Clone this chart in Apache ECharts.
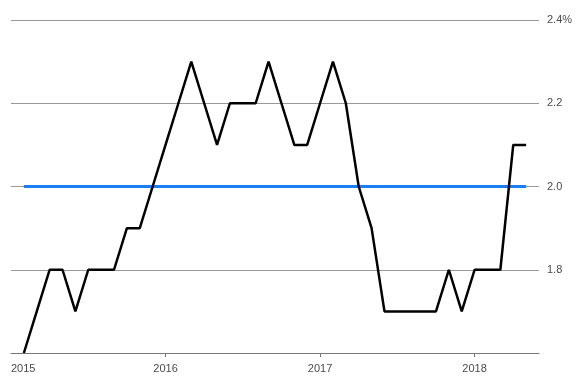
<!DOCTYPE html>
<html>
<head>
<meta charset="utf-8">
<script src="https://cdn.jsdelivr.net/npm/echarts@6/dist/echarts.min.js"></script>
<style>
  html, body { margin: 0; padding: 0; background: #fff; }
  #main { width: 579px; height: 376px; }
</style>
</head>
<body>
<div id="main"></div>
<script>
// months counted from Jan 2015 (0), data runs Feb 2015 .. May 2018
var startMonth = 1;
var inflation = [
  1.6, 1.7, 1.8, 1.8, 1.7, 1.8, 1.8, 1.8, 1.9, 1.9, 2.0,
  2.1, 2.2, 2.3, 2.2, 2.1, 2.2, 2.2, 2.2, 2.3, 2.2, 2.1,
  2.1, 2.2, 2.3, 2.2, 2.0, 1.9, 1.7, 1.7, 1.7, 1.7, 1.7,
  1.8, 1.7, 1.8, 1.8, 1.8, 2.1, 2.1
];
var target = 2.0;
var yearTicks = [0, 12, 24, 36];
var yearLabels = ['2015', '2016', '2017', '2018'];

var lineData = inflation.map(function (v, i) { return [startMonth + i, v]; });
var lastMonth = startMonth + inflation.length - 1;

var chart = echarts.init(document.getElementById('main'));
var option = {
  animation: false,
  backgroundColor: '#fff',
  grid: { left: 11, right: 40, top: 20, bottom: 23 },
  xAxis: {
    type: 'value',
    min: 0,
    max: 41,
    splitLine: { show: false },
    axisLine: { show: true, lineStyle: { color: '#777', width: 1 } },
    axisTick: { show: true, customValues: [12, 24, 36], length: 4, lineStyle: { color: '#777' } },
    axisLabel: {
      customValues: yearTicks,
      alignMinLabel: 'left',
      margin: 10,
      color: '#4a4a4a',
      fontSize: 11,
      fontFamily: 'Liberation Sans, Arial, sans-serif',
      formatter: function (v) {
        var k = yearTicks.indexOf(v);
        return k >= 0 ? yearLabels[k] : '';
      }
    }
  },
  yAxis: {
    type: 'value',
    position: 'right',
    min: 1.6,
    max: 2.4,
    interval: 0.2,
    axisLine: { show: false },
    axisTick: { show: false },
    splitLine: { show: true, lineStyle: { color: '#999', width: 1 } },
    axisLabel: {
      margin: 8,
      color: '#4a4a4a',
      fontSize: 11,
      fontFamily: 'Liberation Sans, Arial, sans-serif',
      formatter: function (v) {
        var r = Math.round(v * 10) / 10;
        if (r === 1.6) return '';
        if (r === 2.4) return '2.4%';
        return r.toFixed(1);
      }
    }
  },
  series: [
    {
      type: 'line',
      data: [[startMonth, target], [lastMonth, target]],
      symbol: 'none',
      lineStyle: { color: '#1a7ff5', width: 3 },
      z: 2
    },
    {
      type: 'line',
      data: lineData,
      symbol: 'none',
      lineStyle: { color: '#000', width: 2.5 },
      z: 3
    }
  ]
};
chart.setOption(option);
</script>
</body>
</html>
